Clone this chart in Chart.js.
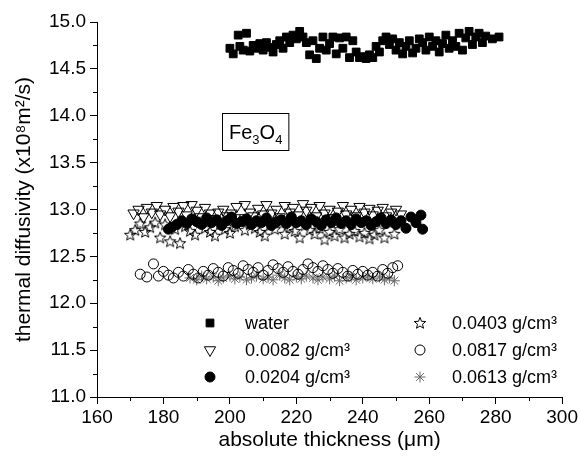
<!DOCTYPE html>
<html>
<head>
<meta charset="utf-8">
<script src="https://cdn.jsdelivr.net/npm/chart.js"></script>
<style>
  html, body { margin: 0; padding: 0; background: #fff; }
</style>
</head>
<body>
<canvas id="myChart" width="580" height="466"></canvas>
<script>
// ---- data ----
const xTicks = [160, 180, 200, 220, 240, 260, 280, 300];
const yTicks = [11.0, 11.5, 12.0, 12.5, 13.0, 13.5, 14.0, 14.5, 15.0];

const seriesLabels = ['water', '0.0082 g/cm³', '0.0204 g/cm³', '0.0403 g/cm³', '0.0817 g/cm³', '0.0613 g/cm³'];

// water
const waterX = [200, 201, 202.5, 203, 204, 205, 206, 207, 208, 209, 210, 211, 212, 213, 214, 215, 216, 217, 218, 219,
  220, 221, 222, 223, 224, 225, 226, 227, 228, 229, 230, 231, 232, 233, 234, 235, 236, 237, 238, 239,
  240, 241, 242, 243, 244, 245, 246, 247, 248, 249, 250, 251, 252, 253, 254, 255, 256, 257, 258, 259,
  260, 261, 262, 263, 264, 265, 266, 267, 268, 269, 270, 271, 272, 273, 274, 275, 276, 277, 279, 281];
const waterY = [14.72, 14.66, 14.86, 14.74, 14.70, 14.88, 14.69, 14.75, 14.72, 14.77, 14.70, 14.78, 14.73, 14.68, 14.76, 14.80, 14.72, 14.84, 14.78, 14.86,
  14.82, 14.90, 14.84, 14.78, 14.65, 14.80, 14.61, 14.72, 14.84, 14.70, 14.77, 14.84, 14.66, 14.83, 14.72, 14.84, 14.62, 14.80, 14.68, 14.62,
  14.63, 14.61, 14.65, 14.62, 14.74, 14.68, 14.80, 14.84, 14.76, 14.82, 14.70, 14.78, 14.66, 14.74, 14.80, 14.67, 14.72, 14.82, 14.78, 14.70,
  14.84, 14.74, 14.80, 14.68, 14.77, 14.86, 14.72, 14.80, 14.74, 14.88, 14.70, 14.83, 14.90, 14.76, 14.84, 14.88, 14.78, 14.85, 14.82, 14.84];

// 0.0082 g/cm3
const c0082X = [171, 172.5, 174, 175, 176.5, 178, 179, 180.5, 182, 183, 184.5, 186, 187, 188.5, 190, 191, 192.5, 194, 195, 196.5,
  198, 199, 200.5, 202, 203, 204.5, 206, 207, 208.5, 210, 211, 212.5, 214, 215, 216.5, 218, 219, 220.5, 222, 223,
  224.5, 226, 227, 228.5, 230, 231, 232.5, 234, 235, 236.5, 238, 239, 240.5, 242, 243, 244.5, 246, 247, 248.5, 250, 251.5];
const c0082Y = [12.96, 13.00, 12.92, 13.02, 12.97, 13.04, 12.95, 13.00, 12.93, 13.03, 12.98, 13.04, 12.94, 13.05, 12.99, 12.92, 13.02, 12.96, 12.90, 12.97,
  13.00, 12.93, 12.96, 13.03, 12.91, 13.05, 12.97, 12.93, 13.01, 12.95, 13.05, 12.96, 13.00, 12.92, 13.04, 12.97, 13.02, 12.94, 13.06, 12.99,
  13.02, 12.93, 13.04, 12.96, 13.00, 12.91, 12.98, 13.04, 12.95, 13.00, 12.93, 13.03, 12.97, 13.01, 12.94, 12.99, 13.02, 12.93, 12.97, 13.00, 12.95];

// 0.0204 g/cm3
const c0204X = [181.5, 182.5, 184, 185.5, 187, 188.5, 190, 191.5, 193, 194.5, 196, 197.5, 199, 200.5, 202, 203.5, 205, 206.5, 208, 209.5,
  211, 212.5, 214, 215.5, 217, 218.5, 220, 221.5, 223, 224.5, 226, 227.5, 229, 230.5, 232, 233.5, 235, 236.5, 238, 239.5,
  241, 242.5, 244, 245.5, 247, 248.5, 250, 251.5, 253, 254.5, 256, 257.5, 258];
const c0204Y = [12.79, 12.81, 12.84, 12.88, 12.85, 12.90, 12.87, 12.84, 12.91, 12.86, 12.89, 12.83, 12.88, 12.92, 12.85, 12.87, 12.90, 12.84, 12.88, 12.86,
  12.91, 12.83, 12.87, 12.89, 12.85, 12.92, 12.86, 12.88, 12.84, 12.90, 12.87, 12.83, 12.89, 12.86, 12.91, 12.85, 12.88, 12.84, 12.90, 12.86,
  12.88, 12.83, 12.87, 12.91, 12.85, 12.89, 12.84, 12.88, 12.80, 12.92, 12.86, 12.94, 12.79];

// 0.0403 g/cm3
const c0403X = [170, 171.5, 173, 174.5, 176, 177.5, 179, 180.5, 182, 183.5, 185, 186.5, 188, 189.5, 191, 192.5, 194, 195.5, 197, 198.5,
  200, 201.5, 203, 204.5, 206, 207.5, 209, 210.5, 212, 213.5, 215, 216.5, 218, 219.5, 221, 222.5, 224, 225.5, 227, 228.5,
  230, 231.5, 233, 234.5, 236, 237.5, 239, 240.5, 242, 243.5, 245, 246.5, 248, 249.5];
const c0403Y = [12.73, 12.78, 12.85, 12.76, 12.81, 12.86, 12.70, 12.84, 12.66, 12.79, 12.64, 12.82, 12.77, 12.73, 12.86, 12.80, 12.76, 12.72, 12.84, 12.79,
  12.75, 12.82, 12.88, 12.78, 12.84, 12.80, 12.76, 12.72, 12.83, 12.79, 12.86, 12.74, 12.81, 12.77, 12.70, 12.83, 12.78, 12.74, 12.80, 12.68,
  12.76, 12.72, 12.79, 12.70, 12.74, 12.77, 12.71, 12.75, 12.69, 12.73, 12.78, 12.70, 12.86, 12.74];

// 0.0817 g/cm3
const c0817X = [173, 175, 177, 178.5, 180, 181.5, 183, 184.5, 186, 187.5, 189, 190.5, 192, 193.5, 195, 196.5, 198, 199.5, 201, 202.5,
  204, 205.5, 207, 208.5, 210, 211.5, 213, 214.5, 216, 217.5, 219, 220.5, 222, 223.5, 225, 226.5, 228, 229.5, 231, 232.5,
  234, 235.5, 237, 238.5, 240, 241.5, 243, 244.5, 246, 247.5, 249, 250.5];
const c0817Y = [12.31, 12.28, 12.42, 12.29, 12.34, 12.30, 12.27, 12.33, 12.29, 12.36, 12.31, 12.27, 12.34, 12.30, 12.37, 12.33, 12.29, 12.38, 12.35, 12.32,
  12.40, 12.36, 12.33, 12.38, 12.30, 12.35, 12.41, 12.37, 12.33, 12.39, 12.34, 12.31, 12.36, 12.42, 12.38, 12.34, 12.40, 12.36, 12.32, 12.37,
  12.33, 12.29, 12.35, 12.31, 12.34, 12.30, 12.33, 12.29, 12.36, 12.32, 12.38, 12.40];

// 0.0613 g/cm3
const c0613X = [188, 190, 191.5, 193, 195, 196.5, 198, 200, 201.5, 203, 205, 206.5, 208, 210, 211.5, 213, 215, 216.5, 218, 220,
  221.5, 223, 225, 226.5, 228, 230, 231.5, 233, 235, 236.5, 238, 240, 241.5, 243, 245, 246.5, 248, 249.5];
const c0613Y = [12.27, 12.25, 12.29, 12.26, 12.28, 12.24, 12.27, 12.29, 12.26, 12.28, 12.25, 12.27, 12.29, 12.26, 12.28, 12.25, 12.30, 12.27, 12.25, 12.28,
  12.26, 12.29, 12.27, 12.25, 12.28, 12.26, 12.29, 12.24, 12.27, 12.28, 12.25, 12.27, 12.29, 12.26, 12.28, 12.25, 12.27, 12.24];

const FONT = "'Liberation Sans', Arial, Helvetica, sans-serif";

function pts(xs, ys) {
    return xs.map((x, i) => ({ x: x, y: ys[i] }));
}

// open five-point star marker (Chart.js has no outlined star)
function makeStar() {
    const c = document.createElement('canvas');
    c.width = 14; c.height = 14;
    const g = c.getContext('2d');
    g.strokeStyle = '#000';
    g.lineWidth = 1;
    g.beginPath();
    for (let i = 0; i < 10; i++) {
        const r = i % 2 === 0 ? 6 : 2.6;
        const a = -Math.PI / 2 + i * Math.PI / 5;
        const px = 7 + r * Math.cos(a), py = 7.4 + r * Math.sin(a);
        if (i === 0) g.moveTo(px, py); else g.lineTo(px, py);
    }
    g.closePath();
    g.stroke();
    return c;
}
const starImg = makeStar();

// minor ticks halfway between the labelled ones
function withMinor(list) {
    const out = [];
    list.forEach((v, i) => {
        out.push(v);
        if (i < list.length - 1) out.push((v + list[i + 1]) / 2);
    });
    return out;
}
const isMajor = (list, v) => list.some(t => Math.abs(t - v) < 1e-9);

// small drawer for the legend markers
function drawMarker(ctx, ds, x, y) {
    if (Chart.helpers && Chart.helpers.drawPoint) {
        ctx.save();
        ctx.fillStyle = ds.pointBackgroundColor;
        ctx.strokeStyle = ds.pointBorderColor;
        ctx.lineWidth = ds.pointBorderWidth;
        Chart.helpers.drawPoint(ctx, {
            pointStyle: ds.pointStyle,
            radius: ds.pointRadius,
            rotation: ds.pointRotation || 0,
            borderWidth: ds.pointBorderWidth
        }, x, y);
        ctx.restore();
    }
}

// legend inside the plot + Fe3O4 box + minor ticks
const extras = {
    id: 'extras',
    afterDraw(chart) {
        const ctx = chart.ctx;
        const xs = chart.scales.x, ys = chart.scales.y;

        // minor ticks
        ctx.save();
        ctx.strokeStyle = '#000';
        ctx.lineWidth = 1;
        ctx.beginPath();
        xs.ticks.forEach(t => {
            if (!isMajor(xTicks, t.value)) {
                const px = Math.round(xs.getPixelForValue(t.value)) + 0.5;
                ctx.moveTo(px, xs.top);
                ctx.lineTo(px, xs.top + 4);
            }
        });
        ys.ticks.forEach(t => {
            if (!isMajor(yTicks, t.value)) {
                const py = Math.round(ys.getPixelForValue(t.value)) + 0.5;
                ctx.moveTo(ys.right, py);
                ctx.lineTo(ys.right - 4, py);
            }
        });
        ctx.stroke();
        ctx.restore();

        // legend, two columns of three
        const colMarker = [210, 420];
        const colText = [245, 452];
        const rowY = [323, 350, 377];
        ctx.save();
        ctx.font = '18px ' + FONT;
        ctx.fillStyle = '#000';
        ctx.textBaseline = 'middle';
        chart.data.datasets.forEach((ds, i) => {
            const col = i < 3 ? 0 : 1, row = i % 3;
            drawMarker(ctx, ds, colMarker[col], rowY[row]);
            ctx.fillStyle = '#000';
            ctx.fillText(ds.label, colText[col], rowY[row] + 1);
        });
        ctx.restore();

        // Fe3O4 label in a box
        ctx.save();
        ctx.fillStyle = '#000';
        ctx.textBaseline = 'alphabetic';
        const bx = 222, by = 113, base = 139;
        let tx = bx + 7;
        const parts = [['Fe', 20, 0], ['3', 13, 5], ['O', 20, 0], ['4', 13, 5]];
        parts.forEach(p => {
            ctx.font = p[1] + 'px ' + FONT;
            ctx.fillText(p[0], tx, base + p[2]);
            tx += ctx.measureText(p[0]).width;
        });
        ctx.strokeStyle = '#000';
        ctx.lineWidth = 1;
        ctx.strokeRect(bx + 0.5, by + 0.5, tx + 6 - bx, 37);
        ctx.restore();
    }
};

const ctx = document.getElementById('myChart').getContext('2d');

new Chart(ctx, {
    type: 'scatter',
    data: {
        datasets: [
            { label: seriesLabels[0], data: pts(waterX, waterY), pointStyle: 'rect', pointRadius: 5.5,
              pointBackgroundColor: '#000', pointBorderColor: '#000', pointBorderWidth: 1 },
            { label: seriesLabels[1], data: pts(c0082X, c0082Y), pointStyle: 'triangle', pointRotation: 180, pointRadius: 6.5,
              pointBackgroundColor: 'rgba(0,0,0,0)', pointBorderColor: '#000', pointBorderWidth: 1 },
            { label: seriesLabels[2], data: pts(c0204X, c0204Y), pointStyle: 'circle', pointRadius: 5,
              pointBackgroundColor: '#000', pointBorderColor: '#000', pointBorderWidth: 1 },
            { label: seriesLabels[3], data: pts(c0403X, c0403Y), pointStyle: starImg, pointRadius: 7,
              pointBackgroundColor: 'rgba(0,0,0,0)', pointBorderColor: '#000', pointBorderWidth: 1 },
            { label: seriesLabels[4], data: pts(c0817X, c0817Y), pointStyle: 'circle', pointRadius: 5,
              pointBackgroundColor: 'rgba(0,0,0,0)', pointBorderColor: '#000', pointBorderWidth: 1 },
            { label: seriesLabels[5], data: pts(c0613X, c0613Y), pointStyle: 'star', pointRadius: 5.5,
              pointBackgroundColor: 'rgba(0,0,0,0)', pointBorderColor: '#666', pointBorderWidth: 1 }
        ]
    },
    options: {
        responsive: false,
        animation: false,
        devicePixelRatio: 1,
        layout: { padding: { top: 22, right: 17, left: 0, bottom: 0 } },
        plugins: {
            legend: { display: false },
            tooltip: { enabled: false }
        },
        scales: {
            x: {
                type: 'linear',
                min: 160, max: 300,
                afterBuildTicks: scale => { scale.ticks = withMinor(xTicks).map(v => ({ value: v })); },
                afterFit: scale => { scale.height = 69; },
                border: { display: true, color: '#000', width: 1 },
                grid: {
                    drawOnChartArea: false,
                    tickLength: 7,
                    tickColor: c => (c.tick && isMajor(xTicks, c.tick.value)) ? '#000' : 'rgba(0,0,0,0)'
                },
                ticks: {
                    color: '#000',
                    padding: 2,
                    maxRotation: 0,
                    autoSkip: false,
                    font: { family: FONT, size: 19 },
                    callback: v => isMajor(xTicks, v) ? String(v) : ''
                },
                title: {
                    display: true,
                    text: 'absolute thickness (μm)',
                    color: '#000',
                    font: { family: FONT, size: 21 },
                    padding: { top: 0, bottom: 13 }
                }
            },
            y: {
                type: 'linear',
                min: 11, max: 15,
                afterBuildTicks: scale => { scale.ticks = withMinor(yTicks).map(v => ({ value: v })); },
                afterFit: scale => { scale.width = 97; },
                border: { display: true, color: '#000', width: 1 },
                grid: {
                    drawOnChartArea: false,
                    tickLength: 7,
                    tickColor: c => (c.tick && isMajor(yTicks, c.tick.value)) ? '#000' : 'rgba(0,0,0,0)'
                },
                ticks: {
                    color: '#000',
                    padding: 4,
                    autoSkip: false,
                    font: { family: FONT, size: 19 },
                    callback: v => isMajor(yTicks, v) ? v.toFixed(1) : ''
                },
                title: {
                    display: true,
                    text: 'thermal diffusivity (x10⁸m²/s)',
                    color: '#000',
                    font: { family: FONT, size: 21 },
                    padding: { top: 12, bottom: 0 }
                }
            }
        }
    },
    plugins: [extras]
});
</script>
</body>
</html>
